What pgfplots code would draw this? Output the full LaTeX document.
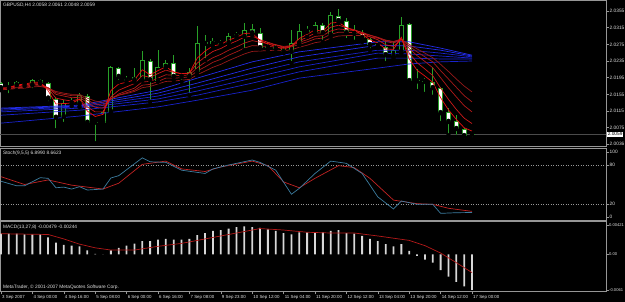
\documentclass[border=0pt]{standalone}
\usepackage{fontspec}
\setmainfont{Liberation Sans}
\usepackage{pgfplots}
\usepackage{pgfplotstable}
\pgfplotsset{compat=1.18}
\definecolor{cgreen}{RGB}{40,160,40}
\definecolor{framec}{RGB}{150,150,150}
\definecolor{txt}{RGB}{225,225,225}
\definecolor{redA}{RGB}{235,15,15}
\definecolor{redB}{RGB}{205,25,25}
\definecolor{redC}{RGB}{180,25,25}
\definecolor{redD}{RGB}{165,25,25}
\definecolor{redE}{RGB}{150,25,25}
\definecolor{blueA}{RGB}{35,45,235}
\definecolor{blueB}{RGB}{25,35,205}
\definecolor{stochmain}{RGB}{60,125,160}
\definecolor{stochsig}{RGB}{195,35,35}
\definecolor{histc}{RGB}{215,215,215}
\definecolor{macdsig}{RGB}{180,25,25}
\definecolor{pricel}{RGB}{75,75,75}
\newcommand\lbl{\fontsize{4.8}{5}\selectfont}
\newcommand\slbl{\fontsize{4.1}{5}\selectfont}
\newcommand\dlbl{\fontsize{4.4}{5}\selectfont}

\pgfplotstableread{
i o h l c
0 2.0182 2.0185 2.0165 2.0170
1 2.0170 2.0185 2.0153 2.0173
2 2.0177 2.0188 2.0165 2.0185
3 2.0183 2.0185 2.0175 2.0180
4 2.0177 2.0192 2.0165 2.0189
5 2.0189 2.0192 2.0181 2.0183
6 2.0182 2.0185 2.0134 2.0145
7 2.0145 2.0149 2.0069 2.0099
8 2.0101 2.0141 2.0084 2.0134
9 2.0135 2.0146 2.0127 2.0134
10 2.0132 2.0158 2.0125 2.0153
11 2.0151 2.0156 2.0081 2.0087
12 2.0088 2.0093 2.0038 2.0087
13 2.0087 2.0117 2.0084 2.0113
14 2.0113 2.0223 2.0109 2.0221
15 2.0218 2.0221 2.0185 2.0197
16 2.0191 2.0199 2.0182 2.0188
17 2.0189 2.0218 2.0185 2.0197
18 2.0189 2.0259 2.0188 2.0237
19 2.0236 2.0240 2.0137 2.0189
20 2.0187 2.0261 2.0185 2.0221
21 2.0221 2.0237 2.0218 2.0231
22 2.0230 2.0249 2.0189 2.0197
23 2.0197 2.0206 2.0185 2.0198
24 2.0197 2.0218 2.0153 2.0209
25 2.0209 2.0319 2.0201 2.0278
26 2.0281 2.0297 2.0237 2.0276
27 2.0276 2.0290 2.0269 2.0283
28 2.0276 2.0285 2.0273 2.0278
29 2.0278 2.0302 2.0269 2.0295
30 2.0295 2.0305 2.0290 2.0300
31 2.0293 2.0326 2.0261 2.0309
32 2.0312 2.0324 2.0297 2.0302
33 2.0302 2.0314 2.0265 2.0266
34 2.0271 2.0281 2.0261 2.0267
35 2.0269 2.0273 2.0254 2.0264
36 2.0264 2.0269 2.0254 2.0257
37 2.0257 2.0309 2.0230 2.0278
38 2.0278 2.0324 2.0273 2.0307
39 2.0305 2.0319 2.0293 2.0309
40 2.0305 2.0329 2.0302 2.0321
41 2.0321 2.0326 2.0281 2.0302
42 2.0297 2.0353 2.0293 2.0345
43 2.0343 2.0360 2.0326 2.0331
44 2.0331 2.0338 2.0285 2.0302
45 2.0302 2.0321 2.0281 2.0300
46 2.0302 2.0309 2.0281 2.0290
47 2.0288 2.0290 2.0261 2.0273
48 2.0276 2.0281 2.0266 2.0271
49 2.0269 2.0285 2.0230 2.0249
50 2.0247 2.0281 2.0242 2.0261
51 2.0257 2.0341 2.0254 2.0321
52 2.0324 2.0326 2.0182 2.0187
53 2.0187 2.0216 2.0163 2.0186
54 2.0187 2.0194 2.0156 2.0185
55 2.0185 2.0221 2.0149 2.0170
56 2.0170 2.0173 2.0086 2.0110
57 2.0113 2.0122 2.0057 2.0089
58 2.0091 2.0105 2.0053 2.0072
59 2.0072 2.0074 2.0045 2.0055
60 2.0058 2.0061 2.0048 2.0059
}\candles

\pgfplotstableread{
i r3 r5 r8 r11 r15
0 2.0170 2.0170 2.0168 2.0167 2.0166
1 2.0171 2.0171 2.0169 2.0168 2.0167
2 2.0178 2.0176 2.0173 2.0171 2.0169
3 2.0179 2.0177 2.0174 2.0172 2.0170
4 2.0184 2.0181 2.0178 2.0175 2.0173
5 2.0184 2.0182 2.0179 2.0176 2.0174
6 2.0164 2.0169 2.0171 2.0171 2.0170
7 2.0132 2.0146 2.0155 2.0159 2.0162
8 2.0133 2.0142 2.0151 2.0155 2.0158
9 2.0134 2.0139 2.0147 2.0152 2.0155
10 2.0143 2.0144 2.0148 2.0152 2.0155
11 2.0115 2.0125 2.0135 2.0141 2.0146
12 2.0102 2.0113 2.0124 2.0132 2.0139
13 2.0107 2.0113 2.0122 2.0129 2.0136
14 2.0164 2.0149 2.0144 2.0144 2.0146
15 2.0180 2.0165 2.0156 2.0153 2.0153
16 2.0184 2.0173 2.0163 2.0159 2.0157
17 2.0190 2.0181 2.0170 2.0165 2.0162
18 2.0214 2.0200 2.0185 2.0177 2.0171
19 2.0202 2.0196 2.0186 2.0179 2.0174
20 2.0212 2.0205 2.0194 2.0186 2.0180
21 2.0221 2.0213 2.0202 2.0194 2.0186
22 2.0209 2.0208 2.0201 2.0194 2.0187
23 2.0204 2.0205 2.0200 2.0195 2.0189
24 2.0206 2.0206 2.0202 2.0197 2.0191
25 2.0242 2.0230 2.0219 2.0211 2.0202
26 2.0259 2.0245 2.0232 2.0221 2.0211
27 2.0271 2.0258 2.0243 2.0232 2.0220
28 2.0275 2.0265 2.0251 2.0239 2.0227
29 2.0285 2.0275 2.0261 2.0249 2.0236
30 2.0292 2.0283 2.0269 2.0257 2.0244
31 2.0301 2.0292 2.0278 2.0266 2.0252
32 2.0302 2.0295 2.0284 2.0272 2.0258
33 2.0284 2.0286 2.0280 2.0271 2.0259
34 2.0276 2.0280 2.0277 2.0270 2.0260
35 2.0270 2.0274 2.0274 2.0269 2.0261
36 2.0263 2.0268 2.0270 2.0267 2.0260
37 2.0271 2.0272 2.0272 2.0269 2.0262
38 2.0289 2.0284 2.0280 2.0275 2.0268
39 2.0299 2.0292 2.0286 2.0281 2.0273
40 2.0310 2.0302 2.0294 2.0288 2.0279
41 2.0306 2.0302 2.0296 2.0290 2.0282
42 2.0326 2.0316 2.0307 2.0299 2.0290
43 2.0328 2.0321 2.0312 2.0304 2.0295
44 2.0315 2.0315 2.0310 2.0304 2.0296
45 2.0308 2.0310 2.0308 2.0303 2.0296
46 2.0299 2.0303 2.0304 2.0301 2.0296
47 2.0286 2.0293 2.0297 2.0297 2.0293
48 2.0278 2.0286 2.0291 2.0292 2.0290
49 2.0264 2.0274 2.0282 2.0285 2.0285
50 2.0263 2.0270 2.0278 2.0281 2.0282
51 2.0292 2.0287 2.0287 2.0288 2.0287
52 2.0240 2.0254 2.0265 2.0271 2.0275
53 2.0213 2.0231 2.0248 2.0257 2.0264
54 2.0199 2.0216 2.0234 2.0245 2.0254
55 2.0184 2.0200 2.0219 2.0233 2.0243
56 2.0147 2.0170 2.0195 2.0212 2.0227
57 2.0118 2.0143 2.0171 2.0192 2.0210
58 2.0095 2.0119 2.0149 2.0172 2.0192
59 2.0075 2.0098 2.0128 2.0152 2.0175
60 2.0067 2.0085 2.0113 2.0137 2.0161
}\redma

\pgfplotstableread{
i b1 b2 b3 b4 b5 b6
0 2.0122 2.0120 2.0117 2.0113 2.0105 2.0086
10 2.0129 2.0127 2.0125 2.0122 2.0117 2.0103
20 2.0165 2.0158 2.0151 2.0144 2.0137 2.0125
25 2.0194 2.0182 2.0173 2.0163 2.0153 2.0141
32 2.0233 2.0218 2.0206 2.0194 2.0182 2.0165
38 2.0257 2.0245 2.0233 2.0221 2.0209 2.0194
48 2.0281 2.0273 2.0261 2.0254 2.0242 2.0218
52 2.0281 2.0271 2.0261 2.0252 2.0242 2.0228
56 2.0266 2.0261 2.0254 2.0247 2.0240 2.0233
60 2.0249 2.0247 2.0245 2.0242 2.0240 2.0235
}\bluema

\pgfplotstableread{
i v
0 55
2 48
3 48
5 60.5
6 59.5
7 45
8 46
9 43
10 46.6
11 41.5
13 43
14 60
15 63.6
18 91
19 85
21 84
23 72
26 67
27 74
29 80
32 87.7
33 84
35 72
37 35
38 44
40 67
42 86
44 82.6
46 67
48 31
50 12.3
51 24.6
53 19.5
55 19.5
56 5.6
58 6.6
60 6.9
}\stmain

\pgfplotstableread{
i v
0 62
3 50
6 57
9 49
13 43
15 52
18 81
21 86
23 74
26 70
28 77
32 86
34 79
36 54
38 45
40 59.5
43 79
45 76
47 59.5
50 26
53 20.5
55 19.5
57 13.4
60 8.66
}\stsig

\pgfplotstableread{
i v
0 0.0028
1 0.0028
2 0.0028
3 0.0027
4 0.0027
5 0.0027
6 0.0023
7 0.0016
8 0.0013
9 0.0012
10 0.0011
11 0.00055
12 0.0001
13 0.00003
14 0.00055
15 0.0009
16 0.0012
17 0.00145
18 0.0018
19 0.0018
20 0.0020
21 0.0021
22 0.0020
23 0.0020
24 0.0021
25 0.0026
26 0.0029
27 0.0032
28 0.0033
29 0.0035
30 0.0037
31 0.0038
32 0.0037
33 0.0036
34 0.0034
35 0.0032
36 0.0029
37 0.0027
38 0.0030
39 0.0030
40 0.0030
41 0.0030
42 0.0032
43 0.0033
44 0.0029
45 0.0028
46 0.0025
47 0.0021
48 0.0018
49 0.0014
50 0.0011
51 0.0014
52 0.0005
53 -0.0002
54 -0.0007
55 -0.0011
56 -0.0021
57 -0.0030
58 -0.0037
59 -0.0043
60 -0.00479
}\macdh

\pgfplotstableread{
i v
0 0.0028
6 0.0027
8 0.0021
10 0.0014
12 0.0009
14 0.0006
17 0.0006
20 0.0011
23 0.0015
26 0.0021
29 0.0027
32 0.0033
33 0.0035
36 0.0033
39 0.0030
42 0.0029
45 0.0029
48 0.0025
52 0.0019
54 0.0012
56 0.0002
58 -0.0011
60 -0.00244
}\macds

\pgfplotsset{
  mtpane/.style={
    scale only axis, width=606pt, anchor=south west,
    xmin=-0.127, xmax=77.07,
    axis line style={draw=framec, line width=1pt},
    every tick/.style={draw=framec, line width=0.5pt},
    tick align=outside, major tick length=2.5pt,
    ytick pos=right, yticklabel pos=right,
    xtick=\empty,
    scaled ticks=false,
    yticklabel style={font=\lbl, text=txt, inner sep=1pt},
    clip=true,
  },
  bodybar/.style={only marks, mark=none, error bars/.cd, y dir=plus, y explicit, error mark=none},
}

\begin{document}
\begin{tikzpicture}
\fill[black] (0,0) rectangle (625pt,302pt);

% ---------------- main price pane
\begin{axis}[mtpane, at={(0pt,155pt)}, height=146pt,
  ymin=2.00288, ymax=2.03790,
  ytick={2.0036,2.0075,2.0115,2.0155,2.0195,2.0235,2.0275,2.0315,2.0355},
  yticklabels={2.0036,2.0075,2.0115,2.0155,2.0195,2.0235,2.0275,2.0315,2.0355}]
\addplot[pricel, line width=1.3pt] coordinates {(-1,2.0059) (80,2.0059)};
% wicks
\addplot[bodybar, error bar style={draw=cgreen, line width=0.9pt, solid}]
  table[x=i, y=l, y error expr=\thisrow{h}-\thisrow{l}] {\candles};
% body outlines
\addplot[bodybar, error bar style={draw=cgreen, line width=5pt, solid}]
  table[x=i, y expr={min(\thisrow{o},\thisrow{c})}, y error expr={max(abs(\thisrow{o}-\thisrow{c}),0.00024)}] {\candles};
% bear bodies (white)
\addplot[bodybar, error bar style={draw=white, line width=3.2pt, solid}]
  table[x=i, y expr={\thisrow{o}>\thisrow{c} ? \thisrow{c}+0.00024 : 1.9}, y error expr={max(\thisrow{o}-\thisrow{c}-0.00048,0)}] {\candles};
% bull bodies (black)
\addplot[bodybar, error bar style={draw=black, line width=3.2pt, solid}]
  table[x=i, y expr={\thisrow{c}>\thisrow{o} ? \thisrow{o}+0.00024 : 1.9}, y error expr={max(\thisrow{c}-\thisrow{o}-0.00048,0)}] {\candles};
% long (blue) averages
\addplot[blueA, line width=0.7pt] table[x=i, y=b1] {\bluema};
\addplot[blueA, line width=0.7pt] table[x=i, y=b2] {\bluema};
\addplot[blueB, line width=0.7pt] table[x=i, y=b3] {\bluema};
\addplot[blueB, line width=0.7pt] table[x=i, y=b4] {\bluema};
\addplot[blueB, line width=0.7pt] table[x=i, y=b5] {\bluema};
\addplot[blueB, line width=0.7pt] table[x=i, y=b6] {\bluema};
% short (red) averages
\addplot[redE, line width=0.7pt] table[x=i, y=r15] {\redma};
\addplot[redD, line width=0.7pt] table[x=i, y=r11] {\redma};
\addplot[redC, line width=0.7pt] table[x=i, y=r8] {\redma};
\addplot[redB, line width=0.7pt] table[x=i, y=r5] {\redma};
\addplot[redA, line width=0.7pt] table[x=i, y=r3] {\redma};
\end{axis}

% ---------------- stochastic pane
\begin{axis}[mtpane, at={(0pt,81pt)}, height=72.5pt,
  ymin=-6.15, ymax=105.4,
  ytick={0,20,80,100}, yticklabels={0,20,80,100}]
\addplot[framec, line width=0.5pt, dash pattern=on 1pt off 1.5pt] coordinates {(-1,80) (80,80)};
\addplot[framec, line width=0.5pt, dash pattern=on 1pt off 1.5pt] coordinates {(-1,20) (80,20)};
\addplot[stochsig, line width=0.7pt] table[x=i, y=v] {\stsig};
\addplot[stochmain, line width=0.7pt] table[x=i, y=v] {\stmain};
\end{axis}

% ---------------- MACD pane
\begin{axis}[mtpane, at={(0pt,10pt)}, height=70pt,
  ymin=-0.00506, ymax=0.004385,
  ytick={-0.00479,0,0.00398}, yticklabels={-0.0061,0.00,0.00421},
  yticklabel style={font=\slbl, text=txt, inner sep=0.5pt},
  xtick={0,4,...,60},
  xticklabels={3 Sep 2007,4 Sep 00:00,4 Sep 16:00,5 Sep 08:00,6 Sep 00:00,6 Sep 16:00,7 Sep 08:00,9 Sep 23:00,10 Sep 12:00,11 Sep 04:00,11 Sep 20:00,12 Sep 12:00,13 Sep 04:00,13 Sep 20:00,14 Sep 12:00,17 Sep 00:00},
  xtick pos=bottom, xticklabel pos=bottom,
  xticklabel style={font=\dlbl, text=txt, anchor=north west, inner sep=0pt, xshift=1pt, yshift=-1pt}]
\addplot[ybar, bar width=1.8pt, fill=histc, draw=none] table[x=i, y=v] {\macdh};
\addplot[macdsig, line width=0.7pt] table[x=i, y=v] {\macds};
\end{axis}

% ---------------- texts
\node[anchor=west, inner sep=0pt, text=txt, font=\lbl] at (3pt,297pt) {GBPUSD,H4 2.0058 2.0061 2.0048 2.0059};
\node[anchor=west, inner sep=0pt, text=txt, font=\lbl] at (3pt,149pt) {Stoch(9,5,5) 6.8990 8.6623};
\node[anchor=west, inner sep=0pt, text=txt, font=\lbl] at (3pt,75pt) {MACD(13,27,8) -0.00479 -0.00244};
\node[anchor=west, inner sep=0pt, text=txt, font=\lbl] at (3pt,15pt) {MetaTrader, © 2001-2007 MetaQuotes Software Corp.};
\node[anchor=west, fill=white, text=black, inner sep=0.6pt, font=\lbl] at (607pt,167.7pt) {2.0059};

\pgfresetboundingbox
\useasboundingbox (0,0) rectangle (625pt,302pt);
\end{tikzpicture}
\end{document}
